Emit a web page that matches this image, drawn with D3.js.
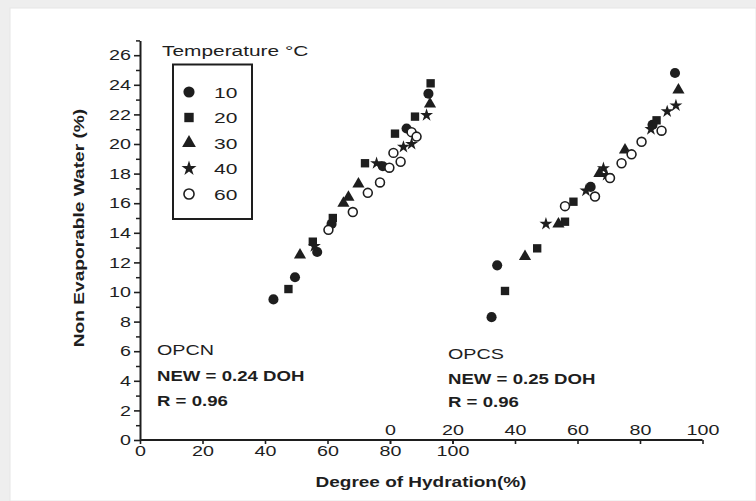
<!DOCTYPE html>
<html><head><meta charset="utf-8">
<script src="https://cdn.jsdelivr.net/npm/d3@7"></script>
<style>html,body{margin:0;padding:0;background:#eeeeee;}svg{display:block;}</style>
</head><body>
<svg id="c" width="756" height="501"></svg>
<script>
// ---------------- data ----------------
const temperatures = ["10", "20", "30", "40", "60"];
const yTicks = [0, 2, 4, 6, 8, 10, 12, 14, 16, 18, 20, 22, 24, 26];
const xTicks = [0, 20, 40, 60, 80, 100];
// OPCN: [degree of hydration %, non evaporable water %]
const opcn10 = [[42.7,9.5],[49.6,11.0],[56.7,12.7],[61.3,14.6],[77.7,18.5],[85.3,21.05],[92.3,23.4]];
const opcn20 = [[47.5,10.2],[55.3,13.4],[61.7,15.0],[72.0,18.7],[81.6,20.7],[88.0,21.85],[93.0,24.1]];
const opcn30 = [[51.2,12.5],[65.1,16.0],[66.7,16.4],[69.9,17.3],[92.8,22.7]];
const opcn40 = [[55.8,13.1],[75.7,18.7],[84.3,19.8],[86.9,20.0],[91.7,21.95]];
const opcn60 = [[60.3,14.2],[68.1,15.4],[72.9,16.7],[76.8,17.4],[79.8,18.4],[81.1,19.4],[83.4,18.8],[86.9,20.8],[88.5,20.5]];
// OPCS
const opcs10 = [[32.5,8.3],[34.3,11.8],[64.2,17.1],[84.0,21.3],[91.2,24.8]];
const opcs20 = [[36.8,10.07],[47.1,12.95],[56.0,14.75],[58.7,16.1],[85.3,21.6]];
const opcs30 = [[43.2,12.4],[53.9,14.6],[67.0,18.0],[75.2,19.6],[92.3,23.65]];
const opcs40 = [[49.9,14.6],[62.7,16.85],[68.3,18.35],[69.3,17.9],[83.5,21.0],[88.7,22.2],[91.5,22.6]];
const opcs60 = [[56.0,15.8],[65.6,16.45],[70.4,17.7],[74.1,18.7],[77.3,19.3],[80.5,20.15],[86.9,20.9]];

const opcnSeries = [opcn10, opcn20, opcn30, opcn40, opcn60];
const opcsSeries = [opcs10, opcs20, opcs30, opcs40, opcs60];

// ---------------- layout ----------------
const svg = d3.select("#c");
const FONT = "'Liberation Sans', Arial, Helvetica, sans-serif";
const INK = "#1e1e1e";
const SX = 1.36;      // glyphs in the reference are wide
const FS = 14.5;

svg.append("rect").attr("x", 10).attr("y", 8).attr("width", 746).attr("height", 493)
  .attr("fill", "#ffffff").attr("stroke", "#e6e6e6");

const y = d3.scaleLinear().domain([0, 27]).range([440, 40.4]);
const xN = d3.scaleLinear().domain([0, 100]).range([140, 452.5]);
const xS = d3.scaleLinear().domain([0, 100]).range([390, 702.5]);

function txt(x, yy, s, o = {}) {
  const t = svg.append("text")
    .attr("transform", `translate(${x},${yy})${o.rotate ? ` rotate(${o.rotate})` : ""} scale(${o.sx || SX},1)`)
    .attr("text-anchor", o.anchor || "start")
    .attr("font-family", FONT)
    .attr("font-size", o.size || FS)
    .attr("font-weight", o.weight || "normal")
    .attr("fill", INK)
    .text(s);
  return t;
}

// ---------------- axes ----------------
// y axis: minor ticks every 1
const gyMinor = svg.append("g").attr("transform", "translate(140,0)")
  .call(d3.axisLeft(y).tickValues(d3.range(1, 28, 2)).tickSize(4).tickFormat(""));
gyMinor.select(".domain").remove();
gyMinor.selectAll("line").attr("stroke", INK).attr("stroke-width", 1.5);

const gy = svg.append("g").attr("transform", "translate(140,0)")
  .call(d3.axisLeft(y).tickValues(yTicks).tickSize(6).tickPadding(3).tickSizeOuter(0));
gy.select(".domain").attr("stroke", INK).attr("stroke-width", 2);
gy.selectAll(".tick line").attr("stroke", INK).attr("stroke-width", 1.6);
gy.selectAll(".tick text")
  .attr("font-family", FONT).attr("font-size", FS).attr("fill", INK)
  .attr("x", -9 / SX).attr("transform", `scale(${SX},1)`);

// x axis (OPCN scale, labels below)
const gxN = svg.append("g").attr("transform", "translate(0,440)")
  .call(d3.axisBottom(xN).tickValues(xTicks).tickSize(4).tickPadding(2).tickSizeOuter(0));
gxN.select(".domain").remove();
gxN.selectAll(".tick line").attr("stroke", INK).attr("stroke-width", 1.6);
gxN.selectAll(".tick text")
  .attr("font-family", FONT).attr("font-size", FS).attr("fill", INK)
  .attr("transform", `scale(${SX},1)`);

// x axis (OPCS scale, labels above the line)
const gxS = svg.append("g").attr("transform", "translate(0,440)")
  .call(d3.axisBottom(xS).tickValues(xTicks).tickSize(4).tickSizeOuter(0));
gxS.select(".domain").remove();
gxS.selectAll(".tick line").attr("stroke", INK).attr("stroke-width", 1.6);
gxS.selectAll(".tick text")
  .attr("font-family", FONT).attr("font-size", FS).attr("fill", INK)
  .attr("y", -5).attr("dy", 0)
  .attr("transform", `scale(${SX},1)`);

// shared axis line
svg.append("line").attr("x1", xN(0)).attr("x2", xS(100)).attr("y1", 440).attr("y2", 440)
  .attr("stroke", INK).attr("stroke-width", 2);

// ---------------- marks ----------------
const symbols = [d3.symbolCircle, d3.symbolSquare, d3.symbolTriangle, d3.symbolStar, d3.symbolCircle];
const sizes = [80, 70, 64, 52, 62];
function drawSeries(series, xs) {
  series.forEach((data, i) => {
    svg.append("g").selectAll("path").data(data).join("path")
      .attr("transform", d => `translate(${xs(d[0])},${y(d[1])})`)
      .attr("d", d3.symbol().type(symbols[i]).size(sizes[i]))
      .attr("fill", i === 4 ? "#ffffff" : INK)
      .attr("stroke", i === 4 ? INK : "none")
      .attr("stroke-width", 1.6);
  });
}
drawSeries(opcnSeries, xN);
drawSeries(opcsSeries, xS);

// ---------------- legend ----------------
txt(162, 56, "Temperature °C", { sx: 1.44 });
svg.append("rect").attr("x", 173).attr("y", 64.5).attr("width", 79).attr("height", 154.5)
  .attr("fill", "none").attr("stroke", INK).attr("stroke-width", 2);
temperatures.forEach((t, i) => {
  const cy = 92 + i * 25.5;
  svg.append("path")
    .attr("transform", `translate(189,${cy})`)
    .attr("d", d3.symbol().type(symbols[i]).size(sizes[i] + 18))
    .attr("fill", i === 4 ? "#ffffff" : INK)
    .attr("stroke", i === 4 ? INK : "none").attr("stroke-width", 1.6);
  txt(214, cy + 5.5, t, { sx: 1.45 });
});

// ---------------- annotations ----------------
txt(157, 355, "OPCN");
txt(157, 381, "NEW = 0.24 DOH", { weight: "bold", sx: 1.33, size: 14 });
txt(157, 406, "R = 0.96", { weight: "bold", sx: 1.33, size: 14 });
txt(448, 359, "OPCS");
txt(448, 384, "NEW = 0.25 DOH", { weight: "bold", sx: 1.33, size: 14 });
txt(448, 407, "R = 0.96", { weight: "bold", sx: 1.33, size: 14 });

// ---------------- axis titles ----------------
txt(84, 228, "Non Evaporable Water (%)", { weight: "bold", rotate: -90, anchor: "middle", sx: 1.32, size: 14.5 });
txt(421, 487, "Degree of Hydration(%)", { weight: "bold", anchor: "middle", sx: 1.31, size: 14.5 });
</script>
</body></html>
